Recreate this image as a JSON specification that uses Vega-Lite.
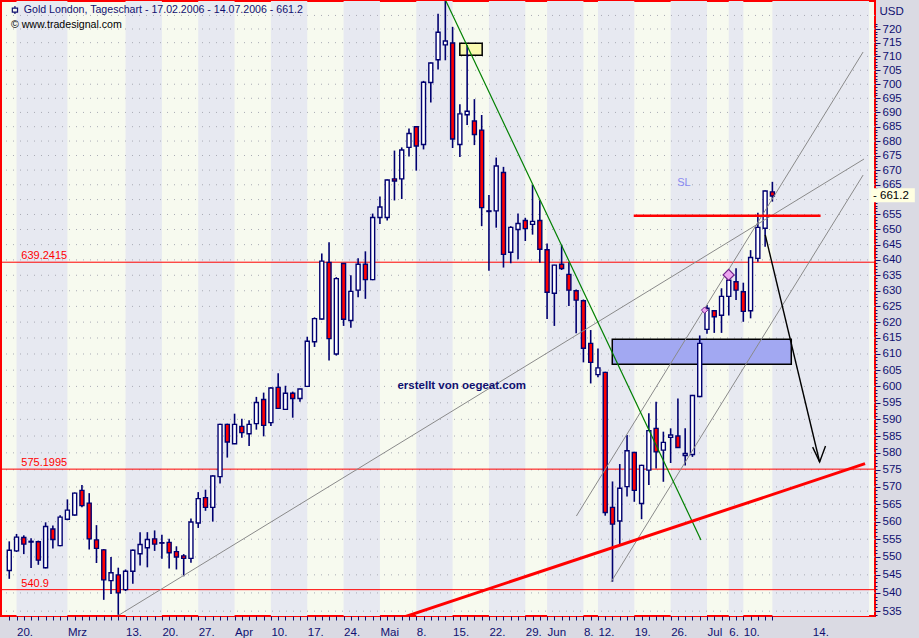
{
  "$schema": "https://vega.github.io/schema/vega-lite/v6.json",
  "width": 874,
  "height": 615,
  "autosize": "none",
  "padding": {"left": 1, "top": 1, "right": 44, "bottom": 22},
  "background": "#dadae3",
  "config": {
    "font": "Liberation Sans",
    "view": {"stroke": "#ff0000", "strokeWidth": 2, "fill": "#f7faef"},
    "axis": {"labelOverlap": false, "labelFlush": false, "labelBound": false, "grid": false, "domain": false}
  },
  "resolve": {"axis": {"x": "independent"}},
  "datasets": {
    "bands": [
      {"a": 1, "b": 8}, {"a": 16, "b": 21}, {"a": 26, "b": 31}, {"a": 36, "b": 41},
      {"a": 46, "b": 51}, {"a": 56, "b": 61}, {"a": 66, "b": 71}, {"a": 74, "b": 79},
      {"a": 81, "b": 86}, {"a": 91, "b": 96}, {"a": 99, "b": 101}, {"a": 105, "b": 118.3}
    ],
    "grid": [
      {"p": 535}, {"p": 540}, {"p": 545}, {"p": 550}, {"p": 555}, {"p": 560}, {"p": 565}, {"p": 570},
      {"p": 575}, {"p": 580}, {"p": 585}, {"p": 590}, {"p": 595}, {"p": 600}, {"p": 605}, {"p": 610},
      {"p": 615}, {"p": 620}, {"p": 625}, {"p": 630}, {"p": 635}, {"p": 640}, {"p": 645}, {"p": 650},
      {"p": 655}, {"p": 660}, {"p": 665}, {"p": 670}, {"p": 675}, {"p": 680}, {"p": 685}, {"p": 690},
      {"p": 695}, {"p": 700}, {"p": 705}, {"p": 710}, {"p": 715}, {"p": 720}, {"p": 725}
    ],
    "levels": [
      {"p": 639.2415, "t": "639.2415"},
      {"p": 575.1995, "t": "575.1995"},
      {"p": 540.9, "t": "540.9"}
    ],
    "bluebox": [{"i": 82.97, "i2": 107.6, "p": 614.6, "p2": 606.8}],
    "yellowbox": [{"i": 61.99, "i2": 65.07, "p": 714.8, "p2": 710.4}],
    "candles": [
      {"i": 0, "o": 546.2, "h": 554.4, "l": 543.9, "c": 551.9},
      {"i": 1, "o": 551.7, "h": 556.5, "l": 551.4, "c": 555.6},
      {"i": 2, "o": 555.5, "h": 556.1, "l": 550.8, "c": 553.6},
      {"i": 3, "o": 554.4, "h": 555.3, "l": 546.9, "c": 554.2},
      {"i": 4, "o": 554.3, "h": 554.6, "l": 547.8, "c": 549.1},
      {"i": 5, "o": 547.0, "h": 559.8, "l": 546.8, "c": 558.6},
      {"i": 6, "o": 557.9, "h": 558.9, "l": 552.4, "c": 554.9},
      {"i": 7, "o": 553.2, "h": 561.8, "l": 553.0, "c": 561.3},
      {"i": 8, "o": 560.7, "h": 566.4, "l": 560.4, "c": 563.3},
      {"i": 9, "o": 561.9, "h": 568.4, "l": 561.7, "c": 568.2},
      {"i": 10, "o": 569.0, "h": 570.6, "l": 564.1, "c": 564.6},
      {"i": 11, "o": 565.3, "h": 568.2, "l": 552.1, "c": 555.1},
      {"i": 12, "o": 554.8, "h": 559.0, "l": 548.3, "c": 552.4},
      {"i": 13, "o": 552.0, "h": 552.2, "l": 538.1, "c": 543.6},
      {"i": 14, "o": 543.4, "h": 550.0, "l": 539.7, "c": 545.6},
      {"i": 15, "o": 545.0, "h": 547.0, "l": 534.0, "c": 540.0},
      {"i": 16, "o": 540.9, "h": 546.5, "l": 540.5, "c": 546.0},
      {"i": 17, "o": 546.0, "h": 552.1, "l": 542.5, "c": 551.9},
      {"i": 18, "o": 550.9, "h": 557.0, "l": 547.6, "c": 553.5},
      {"i": 19, "o": 552.6, "h": 557.0, "l": 547.1, "c": 554.9},
      {"i": 20, "o": 555.1, "h": 557.5, "l": 551.7, "c": 553.6},
      {"i": 21, "o": 554.0, "h": 556.3, "l": 549.5, "c": 553.9},
      {"i": 22, "o": 554.1, "h": 555.1, "l": 546.8, "c": 551.2},
      {"i": 23, "o": 551.5, "h": 553.0, "l": 546.5, "c": 550.0},
      {"i": 24, "o": 550.3, "h": 550.8, "l": 544.6, "c": 549.6},
      {"i": 25, "o": 549.6, "h": 560.9, "l": 548.4, "c": 559.9},
      {"i": 26, "o": 559.6, "h": 568.5, "l": 558.2, "c": 566.6},
      {"i": 27, "o": 566.9, "h": 569.2, "l": 563.1, "c": 564.1},
      {"i": 28, "o": 564.1, "h": 573.4, "l": 560.0, "c": 573.2},
      {"i": 29, "o": 573.0, "h": 588.7, "l": 571.0, "c": 588.5},
      {"i": 30, "o": 588.5, "h": 588.7, "l": 578.6, "c": 583.2},
      {"i": 31, "o": 582.7, "h": 591.7, "l": 582.6, "c": 588.5},
      {"i": 32, "o": 587.9, "h": 590.2, "l": 584.5, "c": 586.0},
      {"i": 33, "o": 585.7, "h": 589.7, "l": 582.0, "c": 588.5},
      {"i": 34, "o": 588.7, "h": 596.8, "l": 586.9, "c": 595.1},
      {"i": 35, "o": 596.0, "h": 598.1, "l": 584.9, "c": 588.2},
      {"i": 36, "o": 589.0, "h": 599.7, "l": 588.0, "c": 599.5},
      {"i": 37, "o": 599.7, "h": 604.0, "l": 593.2, "c": 593.3},
      {"i": 38, "o": 593.0, "h": 600.2, "l": 592.9, "c": 597.9},
      {"i": 39, "o": 597.9, "h": 598.4, "l": 590.5, "c": 596.3},
      {"i": 40, "o": 596.3, "h": 599.3, "l": 595.3, "c": 599.2},
      {"i": 41, "o": 600.0, "h": 615.4, "l": 599.8, "c": 614.0},
      {"i": 42, "o": 613.8, "h": 621.5, "l": 612.2, "c": 621.1},
      {"i": 43, "o": 621.0, "h": 642.1, "l": 620.8, "c": 639.6},
      {"i": 44, "o": 639.2, "h": 645.8, "l": 608.0, "c": 614.8},
      {"i": 45, "o": 610.0, "h": 634.4, "l": 609.5, "c": 633.9},
      {"i": 46, "o": 638.8, "h": 638.9, "l": 618.8, "c": 620.9},
      {"i": 47, "o": 620.5, "h": 635.0, "l": 618.2, "c": 629.8},
      {"i": 48, "o": 630.2, "h": 640.5, "l": 627.9, "c": 638.6},
      {"i": 49, "o": 638.6, "h": 642.8, "l": 627.4, "c": 633.6},
      {"i": 50, "o": 633.6, "h": 655.3, "l": 633.4, "c": 654.0},
      {"i": 51, "o": 654.0, "h": 661.0, "l": 651.8, "c": 657.5},
      {"i": 52, "o": 654.0, "h": 666.8, "l": 653.0, "c": 666.6},
      {"i": 53, "o": 667.0, "h": 676.7, "l": 659.7, "c": 666.3},
      {"i": 54, "o": 667.0, "h": 677.8, "l": 660.2, "c": 676.9},
      {"i": 55, "o": 677.8, "h": 684.4, "l": 674.7, "c": 682.6},
      {"i": 56, "o": 685.0, "h": 685.2, "l": 669.8, "c": 678.3},
      {"i": 57, "o": 678.8, "h": 701.2, "l": 677.1, "c": 700.7},
      {"i": 58, "o": 700.6, "h": 707.8, "l": 693.5, "c": 707.6},
      {"i": 59, "o": 708.8, "h": 725.6, "l": 705.3, "c": 718.8},
      {"i": 60, "o": 714.2, "h": 730.4, "l": 708.6, "c": 715.6},
      {"i": 61, "o": 714.9, "h": 720.8, "l": 677.6, "c": 680.7},
      {"i": 62, "o": 678.8, "h": 692.9, "l": 674.5, "c": 689.5},
      {"i": 63, "o": 689.2, "h": 714.1, "l": 685.6, "c": 690.4},
      {"i": 64, "o": 687.0, "h": 694.7, "l": 678.6, "c": 682.3},
      {"i": 65, "o": 683.8, "h": 689.1, "l": 651.1, "c": 657.3},
      {"i": 66, "o": 656.2, "h": 661.5, "l": 636.5, "c": 656.0},
      {"i": 67, "o": 656.2, "h": 674.3, "l": 650.6, "c": 671.4},
      {"i": 68, "o": 669.2, "h": 671.1, "l": 637.5, "c": 641.8},
      {"i": 69, "o": 642.5, "h": 651.1, "l": 638.9, "c": 650.7},
      {"i": 70, "o": 650.0, "h": 655.3, "l": 640.2, "c": 652.0},
      {"i": 71, "o": 653.0, "h": 653.9, "l": 646.2, "c": 650.3},
      {"i": 72, "o": 651.7, "h": 664.9, "l": 648.3, "c": 652.7},
      {"i": 73, "o": 653.0, "h": 659.8, "l": 639.1, "c": 643.5},
      {"i": 74, "o": 643.3, "h": 645.4, "l": 621.0, "c": 629.5},
      {"i": 75, "o": 629.2, "h": 638.4, "l": 618.8, "c": 638.3},
      {"i": 76, "o": 638.6, "h": 645.0, "l": 636.7, "c": 637.2},
      {"i": 77, "o": 635.3, "h": 639.2, "l": 625.1, "c": 630.2},
      {"i": 78, "o": 630.0, "h": 630.4, "l": 616.5, "c": 627.0},
      {"i": 79, "o": 626.8, "h": 627.2, "l": 607.4, "c": 611.8},
      {"i": 80, "o": 613.3, "h": 617.5, "l": 600.9, "c": 607.4},
      {"i": 81, "o": 603.6, "h": 611.7, "l": 602.8, "c": 605.7},
      {"i": 82, "o": 604.3, "h": 604.5, "l": 561.7, "c": 562.6},
      {"i": 83, "o": 564.1, "h": 571.6, "l": 543.1, "c": 559.3},
      {"i": 84, "o": 560.2, "h": 576.7, "l": 553.3, "c": 569.6},
      {"i": 85, "o": 570.1, "h": 585.3, "l": 567.2, "c": 580.6},
      {"i": 86, "o": 580.1, "h": 580.3, "l": 565.7, "c": 569.0},
      {"i": 87, "o": 565.2, "h": 576.5, "l": 560.7, "c": 576.3},
      {"i": 88, "o": 574.9, "h": 591.8, "l": 570.6, "c": 586.6},
      {"i": 89, "o": 587.3, "h": 595.3, "l": 575.4, "c": 580.3},
      {"i": 90, "o": 580.8, "h": 586.3, "l": 571.5, "c": 583.1},
      {"i": 91, "o": 584.6, "h": 587.3, "l": 577.0, "c": 585.3},
      {"i": 92, "o": 585.0, "h": 596.3, "l": 581.5, "c": 581.6},
      {"i": 93, "o": 579.2, "h": 587.3, "l": 576.3, "c": 579.8},
      {"i": 94, "o": 579.5, "h": 597.4, "l": 578.8, "c": 597.2},
      {"i": 95, "o": 596.9, "h": 615.8, "l": 596.7, "c": 613.3},
      {"i": 96, "o": 617.7, "h": 625.4, "l": 616.3, "c": 624.4},
      {"i": 97, "o": 623.6, "h": 623.8, "l": 616.6, "c": 621.7},
      {"i": 98, "o": 622.2, "h": 630.8, "l": 616.6, "c": 628.2},
      {"i": 99, "o": 628.2, "h": 635.6, "l": 622.1, "c": 633.4},
      {"i": 100, "o": 632.9, "h": 637.3, "l": 627.0, "c": 630.2},
      {"i": 101, "o": 629.7, "h": 632.6, "l": 620.1, "c": 623.4},
      {"i": 102, "o": 623.6, "h": 643.2, "l": 621.2, "c": 640.8},
      {"i": 103, "o": 640.5, "h": 655.6, "l": 639.4, "c": 650.7},
      {"i": 104, "o": 650.4, "h": 663.1, "l": 644.3, "c": 662.9},
      {"i": 105, "o": 662.6, "h": 666.0, "l": 659.3, "c": 661.2}
    ],
    "graylines": [
      {"g": "A", "i": 15.06, "p": 533.9}, {"g": "A", "i": 117.61, "p": 673.8},
      {"g": "B", "i": 78.03, "p": 561.6}, {"g": "B", "i": 117.48, "p": 711.6},
      {"g": "C", "i": 82.79, "p": 543.0}, {"g": "C", "i": 117.48, "p": 668.3}
    ],
    "greenline": [{"i": 60.08, "p": 730.36}, {"i": 95.17, "p": 554.8}],
    "redline": [{"i": 53.55, "p": 532.9}, {"i": 117.75, "p": 576.8}],
    "slline": [{"i": 85.92, "p": 654.6}, {"i": 111.63, "p": 654.6}],
    "arrow": [
      {"g": "shaft", "i": 104.02, "p": 648.2}, {"g": "shaft", "i": 111.5, "p": 577.3},
      {"g": "head", "i": 110.54, "p": 581.7}, {"g": "head", "i": 111.5, "p": 577.3}, {"g": "head", "i": 112.31, "p": 582.0}
    ],
    "bigdiamond": [{"i": 98.98, "p": 635.1}],
    "smalldiamond": [{"i": 95.67, "p": 623.8}],
    "title": [{"i": 2.0, "p": 727.0, "t": "Gold London, Tageschart - 17.02.2006 - 14.07.2006 - 661.2"}],
    "subtitle": [{"i": 0.23, "p": 721.5, "t": "© www.tradesignal.com"}],
    "icon": [{"i": 0.78, "p": 727.0}],
    "sl": [{"i": 91.9, "p": 665.6, "t": "SL"}],
    "credit": [{"i": 53.41, "p": 600.1, "t": "erstellt von oegeat.com"}],
    "tagbox": [{"i": 118.6, "i2": 124.6, "p": 663.8, "p2": 659.1}],
    "tagtext": [{"i": 118.84, "p": 661.2, "t": "- 661.2"}]
  },
  "layer": [
    {
      "data": {"name": "bands"},
      "mark": {"type": "rect", "fill": "#e7e9f1"},
      "encoding": {
        "x": {
          "field": "a", "type": "quantitative",
          "scale": {"domain": [-0.449, 118.43], "nice": false, "zero": false},
          "axis": {
            "orient": "bottom",
            "values": [0,1,2,3,4,5,6,7,8,9,10,11,12,13,14,15,16,17,18,19,20,21,22,23,24,25,26,27,28,29,30,31,32,33,34,35,36,37,38,39,40,41,42,43,44,45,46,47,48,49,50,51,52,53,54,55,56,57,58,59,60,61,62,63,64,65,66,67,68,69,70,71,72,73,74,75,76,77,78,79,80,81,82,83,84,85,86,87,88,89,90,91,92,93,94,95,96,97,98,99,100,101,102,103,104,105],
            "labels": false, "domain": false, "grid": false, "title": null,
            "tickSize": 4, "tickColor": "#101070", "tickWidth": 1
          }
        },
        "x2": {"field": "b"}
      }
    },
    {
      "data": {"name": "grid"},
      "mark": {"type": "rule", "stroke": "#a9abb5", "strokeDash": [1, 6], "strokeWidth": 1},
      "encoding": {
        "y": {
          "field": "p", "type": "quantitative",
          "scale": {"type": "log", "domain": [533.68, 730.36], "nice": false, "zero": false},
          "axis": {
            "orient": "right",
            "values": [534,535,536,537,538,539,540,541,542,543,544,545,546,547,548,549,550,551,552,553,554,555,556,557,558,559,560,561,562,563,564,565,566,567,568,569,570,571,572,573,574,575,576,577,578,579,580,581,582,583,584,585,586,587,588,589,590,591,592,593,594,595,596,597,598,599,600,601,602,603,604,605,606,607,608,609,610,611,612,613,614,615,616,617,618,619,620,621,622,623,624,625,626,627,628,629,630,631,632,633,634,635,636,637,638,639,640,641,642,643,644,645,646,647,648,649,650,651,652,653,654,655,656,657,658,659,660,661,662,663,664,665,666,667,668,669,670,671,672,673,674,675,676,677,678,679,680,681,682,683,684,685,686,687,688,689,690,691,692,693,694,695,696,697,698,699,700,701,702,703,704,705,706,707,708,709,710,711,712,713,714,715,716,717,718,719,720,721,722],
            "labelExpr": "datum.value % 5 == 0 && datum.value != 660 ? '' + datum.value : ''",
            "domain": false, "grid": false,
            "tickSize": {"condition": {"test": "datum.value % 5 == 0", "value": 5}, "value": 2},
            "tickColor": "#101070", "tickWidth": 1,
            "labelAlign": "left", "labelBaseline": "middle", "labelPadding": 2,
            "labelColor": "#101070", "labelFont": "Liberation Sans", "labelFontSize": 11.5,
            "labelOverlap": false, "labelFlush": false, "labelBound": false,
            "title": "USD", "titleAngle": 0, "titleX": 4, "titleY": 10,
            "titleAlign": "left", "titleBaseline": "middle", "titleFontWeight": "normal",
            "titleColor": "#101070", "titleFont": "Liberation Sans", "titleFontSize": 11.5
          }
        }
      }
    },
    {
      "data": {"name": "levels"},
      "mark": {"type": "rule", "stroke": "#ff0000", "strokeWidth": 1},
      "encoding": {
        "y": {"field": "p", "type": "quantitative", "scale": {"type": "log", "domain": [533.68, 730.36], "nice": false, "zero": false}}
      }
    },
    {
      "data": {"name": "levels"},
      "mark": {"type": "text", "color": "#ff0000", "align": "left", "baseline": "alphabetic", "dy": -3, "fontSize": 11, "font": "Liberation Sans"},
      "encoding": {
        "x": {"datum": 1.66, "type": "quantitative", "scale": {"domain": [-0.449, 118.43], "nice": false, "zero": false}, "axis": null},
        "y": {"field": "p", "type": "quantitative", "scale": {"type": "log", "domain": [533.68, 730.36], "nice": false, "zero": false}},
        "text": {"field": "t"}
      }
    },
    {
      "data": {"name": "bluebox"},
      "mark": {"type": "rect", "fill": "#a2a8f2", "stroke": "#000000", "strokeWidth": 1.5},
      "encoding": {
        "x": {"field": "i", "type": "quantitative", "scale": {"domain": [-0.449, 118.43], "nice": false, "zero": false}, "axis": null},
        "x2": {"field": "i2"},
        "y": {"field": "p", "type": "quantitative", "scale": {"type": "log", "domain": [533.68, 730.36], "nice": false, "zero": false}},
        "y2": {"field": "p2"}
      }
    },
    {
      "data": {"name": "yellowbox"},
      "mark": {"type": "rect", "fill": "#fafab0", "stroke": "#000000", "strokeWidth": 1.5},
      "encoding": {
        "x": {"field": "i", "type": "quantitative", "scale": {"domain": [-0.449, 118.43], "nice": false, "zero": false}, "axis": null},
        "x2": {"field": "i2"},
        "y": {"field": "p", "type": "quantitative", "scale": {"type": "log", "domain": [533.68, 730.36], "nice": false, "zero": false}},
        "y2": {"field": "p2"}
      }
    },
    {
      "data": {"name": "candles"},
      "mark": {"type": "rule", "stroke": "#000070", "strokeWidth": 1.6},
      "encoding": {
        "x": {
          "field": "i", "type": "quantitative",
          "scale": {"domain": [-0.449, 118.43], "nice": false, "zero": false},
          "axis": {
            "orient": "bottom",
            "values": [1,8,16,21,26,31,36,41,46,51,56,61,66,71,74,79,81,86,91,96,99,101,110.5],
            "labelExpr": "['20.','Mrz','13.','20.','27.','Apr','10.','17.','24.','Mai','8.','15.','22.','29.','Jun','8.','12.','19.','26.','Jul','6.','10.','14.'][indexof([1,8,16,21,26,31,36,41,46,51,56,61,66,71,74,79,81,86,91,96,99,101,110.5], datum.value)]",
            "domain": false, "grid": false, "title": null,
            "ticks": true, "tickSize": 4, "tickOpacity": 0,
            "labelAlign": "left", "labelBaseline": "top", "labelPadding": 6,
            "labelColor": "#101070", "labelFont": "Liberation Sans", "labelFontSize": 11.5,
            "labelOverlap": false, "labelFlush": false, "labelBound": false
          }
        },
        "y": {"field": "l", "type": "quantitative", "scale": {"type": "log", "domain": [533.68, 730.36], "nice": false, "zero": false}},
        "y2": {"field": "h"}
      }
    },
    {
      "data": {"name": "candles"},
      "mark": {"type": "bar", "width": 4, "stroke": "#000070", "strokeWidth": 1.4},
      "encoding": {
        "x": {"field": "i", "type": "quantitative", "scale": {"domain": [-0.449, 118.43], "nice": false, "zero": false}, "axis": null},
        "y": {"field": "o", "type": "quantitative", "scale": {"type": "log", "domain": [533.68, 730.36], "nice": false, "zero": false}},
        "y2": {"field": "c"},
        "fill": {"condition": {"test": "datum.c >= datum.o", "value": "#ffffff"}, "value": "#ff0000"}
      }
    },
    {
      "data": {"name": "graylines"},
      "mark": {"type": "line", "stroke": "#8a8a8a", "strokeWidth": 1, "clip": true},
      "encoding": {
        "x": {"field": "i", "type": "quantitative", "scale": {"domain": [-0.449, 118.43], "nice": false, "zero": false}, "axis": null},
        "y": {"field": "p", "type": "quantitative", "scale": {"type": "log", "domain": [533.68, 730.36], "nice": false, "zero": false}},
        "detail": {"field": "g"}
      }
    },
    {
      "data": {"name": "greenline"},
      "mark": {"type": "line", "stroke": "#008000", "strokeWidth": 1.2, "clip": true},
      "encoding": {
        "x": {"field": "i", "type": "quantitative", "scale": {"domain": [-0.449, 118.43], "nice": false, "zero": false}, "axis": null},
        "y": {"field": "p", "type": "quantitative", "scale": {"type": "log", "domain": [533.68, 730.36], "nice": false, "zero": false}}
      }
    },
    {
      "data": {"name": "redline"},
      "mark": {"type": "line", "stroke": "#ff0000", "strokeWidth": 3, "clip": true},
      "encoding": {
        "x": {"field": "i", "type": "quantitative", "scale": {"domain": [-0.449, 118.43], "nice": false, "zero": false}, "axis": null},
        "y": {"field": "p", "type": "quantitative", "scale": {"type": "log", "domain": [533.68, 730.36], "nice": false, "zero": false}}
      }
    },
    {
      "data": {"name": "slline"},
      "mark": {"type": "line", "stroke": "#ff0000", "strokeWidth": 2.5},
      "encoding": {
        "x": {"field": "i", "type": "quantitative", "scale": {"domain": [-0.449, 118.43], "nice": false, "zero": false}, "axis": null},
        "y": {"field": "p", "type": "quantitative", "scale": {"type": "log", "domain": [533.68, 730.36], "nice": false, "zero": false}}
      }
    },
    {
      "data": {"name": "arrow"},
      "mark": {"type": "line", "stroke": "#000000", "strokeWidth": 1.4},
      "encoding": {
        "x": {"field": "i", "type": "quantitative", "scale": {"domain": [-0.449, 118.43], "nice": false, "zero": false}, "axis": null},
        "y": {"field": "p", "type": "quantitative", "scale": {"type": "log", "domain": [533.68, 730.36], "nice": false, "zero": false}},
        "detail": {"field": "g"}
      }
    },
    {
      "data": {"name": "bigdiamond"},
      "mark": {"type": "point", "shape": "diamond", "filled": true, "fill": "#eea6f0", "stroke": "#70208a", "strokeWidth": 1.2, "size": 121, "opacity": 1},
      "encoding": {
        "x": {"field": "i", "type": "quantitative", "scale": {"domain": [-0.449, 118.43], "nice": false, "zero": false}, "axis": null},
        "y": {"field": "p", "type": "quantitative", "scale": {"type": "log", "domain": [533.68, 730.36], "nice": false, "zero": false}}
      }
    },
    {
      "data": {"name": "smalldiamond"},
      "mark": {"type": "point", "shape": "diamond", "filled": true, "fill": "#eea6f0", "stroke": "#70208a", "strokeWidth": 1, "size": 40, "opacity": 1},
      "encoding": {
        "x": {"field": "i", "type": "quantitative", "scale": {"domain": [-0.449, 118.43], "nice": false, "zero": false}, "axis": null},
        "y": {"field": "p", "type": "quantitative", "scale": {"type": "log", "domain": [533.68, 730.36], "nice": false, "zero": false}}
      }
    },
    {
      "data": {"name": "title"},
      "mark": {"type": "text", "align": "left", "baseline": "middle", "color": "#101070", "fontSize": 10.6, "font": "Liberation Sans"},
      "encoding": {
        "x": {"field": "i", "type": "quantitative", "scale": {"domain": [-0.449, 118.43], "nice": false, "zero": false}, "axis": null},
        "y": {"field": "p", "type": "quantitative", "scale": {"type": "log", "domain": [533.68, 730.36], "nice": false, "zero": false}},
        "text": {"field": "t"}
      }
    },
    {
      "data": {"name": "subtitle"},
      "mark": {"type": "text", "align": "left", "baseline": "middle", "color": "#000000", "fontSize": 10.6, "font": "Liberation Sans"},
      "encoding": {
        "x": {"field": "i", "type": "quantitative", "scale": {"domain": [-0.449, 118.43], "nice": false, "zero": false}, "axis": null},
        "y": {"field": "p", "type": "quantitative", "scale": {"type": "log", "domain": [533.68, 730.36], "nice": false, "zero": false}},
        "text": {"field": "t"}
      }
    },
    {
      "data": {"name": "icon"},
      "mark": {"type": "point", "shape": "M-0.65,-0.5H0.65V0.5H-0.65Z M0,-0.5V-1 M0,0.5V1", "filled": false, "stroke": "#101070", "strokeWidth": 1.2, "size": 64, "opacity": 1},
      "encoding": {
        "x": {"field": "i", "type": "quantitative", "scale": {"domain": [-0.449, 118.43], "nice": false, "zero": false}, "axis": null},
        "y": {"field": "p", "type": "quantitative", "scale": {"type": "log", "domain": [533.68, 730.36], "nice": false, "zero": false}}
      }
    },
    {
      "data": {"name": "sl"},
      "mark": {"type": "text", "align": "left", "baseline": "middle", "color": "#8a8af0", "fontSize": 11, "font": "Liberation Sans"},
      "encoding": {
        "x": {"field": "i", "type": "quantitative", "scale": {"domain": [-0.449, 118.43], "nice": false, "zero": false}, "axis": null},
        "y": {"field": "p", "type": "quantitative", "scale": {"type": "log", "domain": [533.68, 730.36], "nice": false, "zero": false}},
        "text": {"field": "t"}
      }
    },
    {
      "data": {"name": "credit"},
      "mark": {"type": "text", "align": "left", "baseline": "middle", "color": "#101070", "fontSize": 11.5, "fontWeight": "bold", "font": "Liberation Sans"},
      "encoding": {
        "x": {"field": "i", "type": "quantitative", "scale": {"domain": [-0.449, 118.43], "nice": false, "zero": false}, "axis": null},
        "y": {"field": "p", "type": "quantitative", "scale": {"type": "log", "domain": [533.68, 730.36], "nice": false, "zero": false}},
        "text": {"field": "t"}
      }
    },
    {
      "data": {"name": "tagbox"},
      "mark": {"type": "rect", "fill": "#ffffe1", "clip": false},
      "encoding": {
        "x": {"field": "i", "type": "quantitative", "scale": {"domain": [-0.449, 118.43], "nice": false, "zero": false}, "axis": null},
        "x2": {"field": "i2"},
        "y": {"field": "p", "type": "quantitative", "scale": {"type": "log", "domain": [533.68, 730.36], "nice": false, "zero": false}},
        "y2": {"field": "p2"}
      }
    },
    {
      "data": {"name": "tagtext"},
      "mark": {"type": "text", "align": "left", "baseline": "middle", "color": "#000000", "fontSize": 11.5, "font": "Liberation Sans", "clip": false},
      "encoding": {
        "x": {"field": "i", "type": "quantitative", "scale": {"domain": [-0.449, 118.43], "nice": false, "zero": false}, "axis": null},
        "y": {"field": "p", "type": "quantitative", "scale": {"type": "log", "domain": [533.68, 730.36], "nice": false, "zero": false}},
        "text": {"field": "t"}
      }
    }
  ]
}
